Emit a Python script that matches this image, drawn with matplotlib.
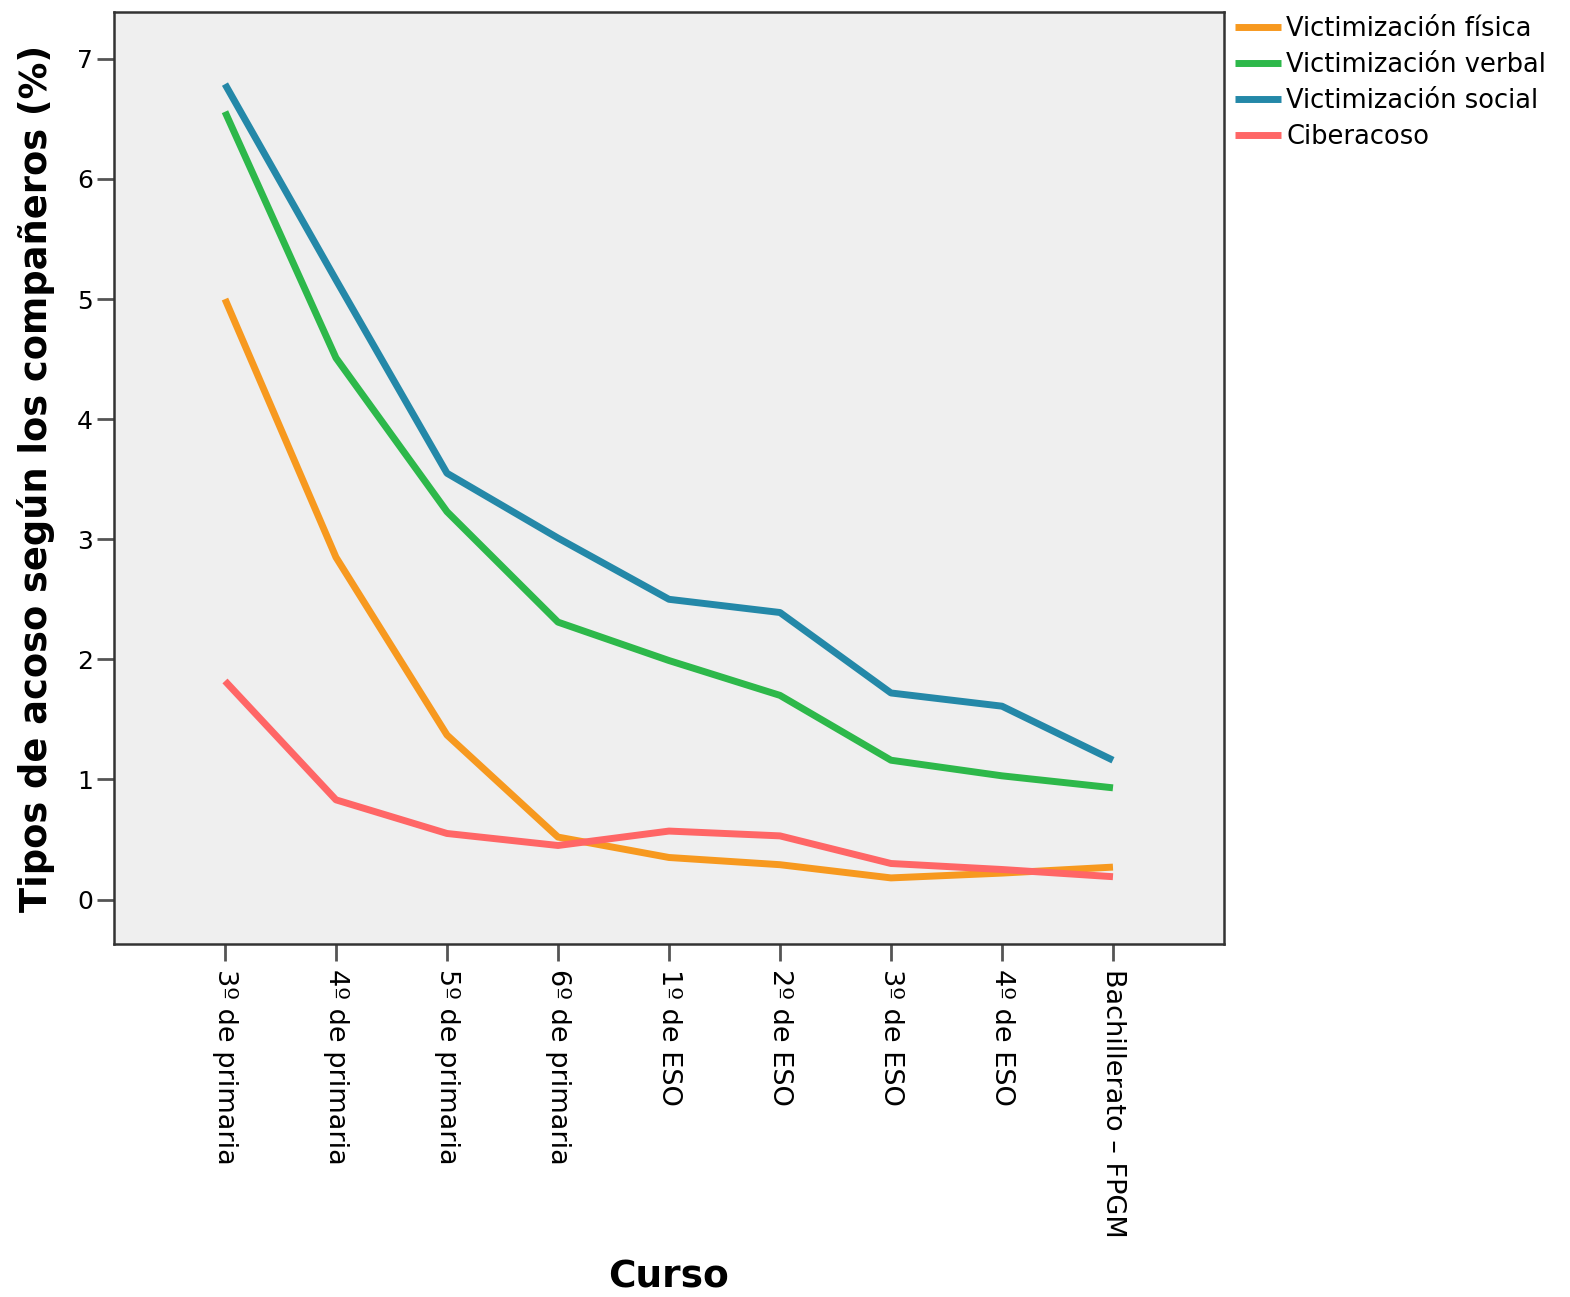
import matplotlib.pyplot as plt

## data

cursos = ['3º de primaria', '4º de primaria', '5º de primaria', '6º de primaria',
          '1º de ESO', '2º de ESO', '3º de ESO', '4º de ESO', 'Bachillerato – FPGM']

fisica = [5.00, 2.85, 1.37, 0.52, 0.35, 0.29, 0.18, 0.22, 0.27]
verbal = [6.56, 4.51, 3.23, 2.31, 1.99, 1.70, 1.16, 1.03, 0.93]
social = [6.79, 5.16, 3.55, 3.01, 2.50, 2.39, 1.72, 1.61, 1.16]
ciber = [1.82, 0.83, 0.55, 0.45, 0.57, 0.53, 0.30, 0.25, 0.19]

series = ['Victimización física', 'Victimización verbal', 'Victimización social', 'Ciberacoso']
colores = ['#F7991F', '#2DB84A', '#2488A8', '#FF6666']

##plot

fig = plt.figure(figsize=(15.7, 12.97), dpi=100)
ax = fig.add_axes([0.0726, 0.2722, 0.7070, 0.7185])
ax.set_facecolor('#EFEFEF')

x = list(range(len(cursos)))
for nombre, vals, col in zip(series, [fisica, verbal, social, ciber], colores):
    ax.plot(x, vals, color=col, linewidth=5, label=nombre, solid_capstyle='butt')

ax.set_xlim(-1, 9)
ax.set_ylim(-0.37, 7.39)
ax.set_yticks(range(0, 8))
ax.set_xticks(x)
ax.set_xticklabels(cursos, rotation=-90, fontsize=19.5, va='top', ha='center')
ax.tick_params(axis='y', labelsize=18, length=12, width=2, color='#555555', pad=3)
ax.tick_params(axis='x', length=12, width=2, color='#555555', pad=6)

for s in ax.spines.values():
    s.set_linewidth(1.8)
    s.set_color('#333333')

ax.set_ylabel('Tipos de acoso según los compañeros (%)', fontsize=26.5, fontweight='bold', labelpad=16)
ax.set_xlabel('Curso', fontsize=27, fontweight='bold', labelpad=16)

ax.legend(loc='upper left', bbox_to_anchor=(0.996, 1.012), frameon=False, fontsize=18.5,
          handlelength=1.8, handletextpad=0.2, labelspacing=0.38, borderaxespad=0.2)

plt.savefig('out.png', dpi=100)
